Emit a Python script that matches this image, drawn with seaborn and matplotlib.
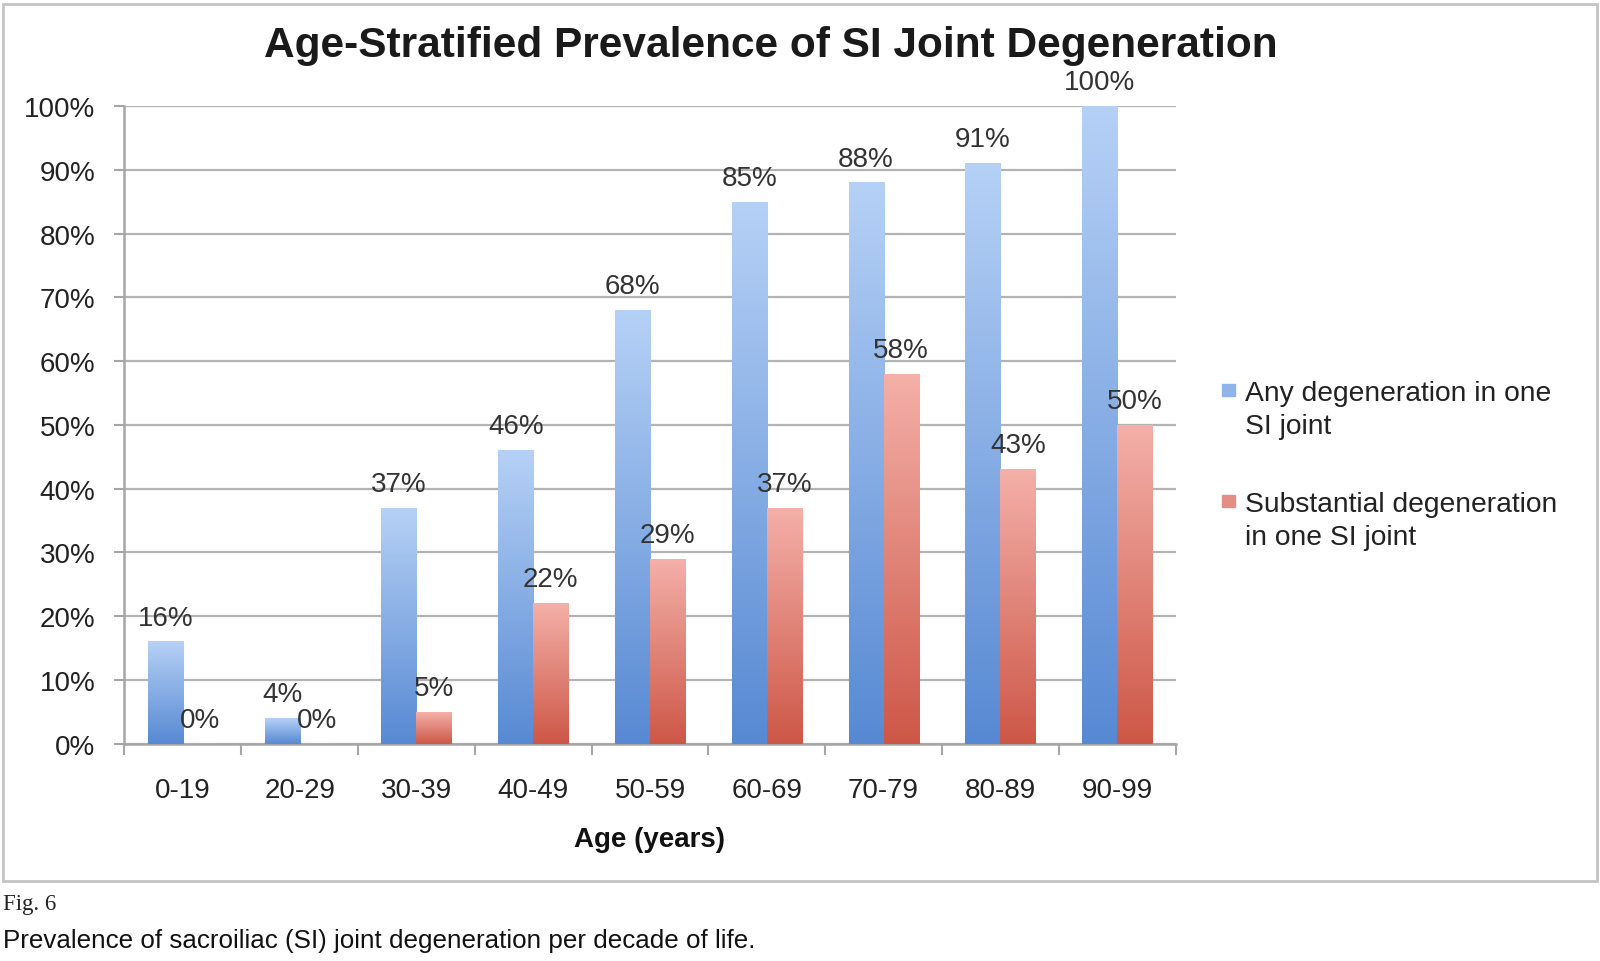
import numpy as np
import pandas as pd
import seaborn as sns
import matplotlib.pyplot as plt
from matplotlib.colors import LinearSegmentedColormap
from matplotlib.patches import Rectangle

# data
age_groups = ['0-19', '20-29', '30-39', '40-49', '50-59', '60-69', '70-79', '80-89', '90-99']
any_degen = [16, 4, 37, 46, 68, 85, 88, 91, 100]
substantial_degen = [0, 0, 5, 22, 29, 37, 58, 43, 50]
series_names = ['Any degeneration in one\nSI joint', 'Substantial degeneration\nin one SI joint']
y_ticks = [0, 10, 20, 30, 40, 50, 60, 70, 80, 90, 100]

df = pd.DataFrame({
    'age': age_groups * 2,
    'value': any_degen + substantial_degen,
    'series': [series_names[0]] * len(age_groups) + [series_names[1]] * len(age_groups),
})

sns.set_theme(style='white')
plt.rcParams['font.family'] = ['Liberation Sans', 'DejaVu Sans']

W, H = 1568, 943  # reference pixel frame
fig = plt.figure(figsize=(16, 9.62), dpi=100)
ax = fig.add_axes([122 / W, 1 - 730 / H, (1152 - 122) / W, (730 - 105) / H])

blue_mid, red_mid = '#7ea7e4', '#e0837a'
sns.barplot(data=df, x='age', y='value', hue='series', palette=[blue_mid, red_mid],
            width=0.6, ax=ax, legend=False, saturation=1)

# gradient fill on each bar (light on top, dark at the bottom)
cmaps = [LinearSegmentedColormap.from_list('b', ['#5789d3', '#b6d1f6']),
         LinearSegmentedColormap.from_list('r', ['#cd5747', '#f4b0a9'])]
grad = np.linspace(0, 1, 256).reshape(-1, 1)
for cont, cmap in zip(ax.containers, cmaps):
    for p in cont.patches:
        x0, w, h = p.get_x(), p.get_width(), p.get_height()
        if h <= 0:
            continue
        ax.imshow(grad, extent=[x0, x0 + w, 0, h], origin='lower', aspect='auto',
                  cmap=cmap, zorder=3, interpolation='bicubic')
        p.set_alpha(0)
    ax.bar_label(cont, labels=[f'{int(v)}%' for v in cont.datavalues], padding=8,
                 fontsize=20, color='#333333', zorder=5)

ax.set_xlim(-0.5, len(age_groups) - 0.5)
ax.set_ylim(0, 100)
ax.set_yticks(y_ticks)
ax.set_yticklabels([f'{t}%' for t in y_ticks], fontsize=20, color='#222222')
ax.set_xticks(range(len(age_groups)))
ax.set_xticklabels(age_groups, fontsize=20, color='#222222')
ax.set_xticks(np.arange(-0.5, len(age_groups)), minor=True)
ax.tick_params(axis='x', which='major', length=0, pad=24)
ax.tick_params(axis='x', which='minor', length=8, width=1.5, color='#a6a6a6', direction='out', bottom=True)
ax.tick_params(axis='y', length=7, width=1.5, color='#a6a6a6', direction='out', left=True, pad=14)
ax.set_xlabel('')
ax.set_ylabel('')
ax.yaxis.grid(True, color='#b3b3b3', lw=1.6, zorder=0)
ax.set_axisbelow(True)
for s in ['top', 'right']:
    ax.spines[s].set_visible(False)
for s in ['left', 'bottom']:
    ax.spines[s].set_color('#a6a6a6')
    ax.spines[s].set_linewidth(1.8)

# title and axis label
fig.text(755 / W, 1 - 45 / H, 'Age-Stratified Prevalence of SI Joint Degeneration',
         ha='center', va='center', fontsize=30.5, fontweight='bold', color='#1a1a1a')
fig.text(637 / W, 1 - 823 / H, 'Age (years)', ha='center', va='center',
         fontsize=20, fontweight='bold', color='#111111')

# legend drawn by hand
legend_colors = ['#8fb4ea', '#e48f86']
legend_y = [388, 497]
for name, col, yy in zip(series_names, legend_colors, legend_y):
    fig.patches.append(Rectangle((1198 / W, 1 - (yy + 1) / H), 12 / W, 12 / H,
                                 transform=fig.transFigure, color=col))
    fig.text(1220 / W, 1 - (yy - 15) / H, name, ha='left', va='top', fontsize=20.3,
             color='#222222', linespacing=1.35)

# outer frame of the figure panel
fig.patches.append(Rectangle((3 / W, 1 - 865 / H), 1562 / W, 860 / H, transform=fig.transFigure,
                             fill=False, edgecolor='#c4c4c4', lw=2))

# caption
fig.text(3 / W, 1 - 887 / H, 'Fig. 6', ha='left', va='center', fontsize=16.5,
         family=['Liberation Serif', 'DejaVu Serif'], color='#222222')
fig.text(3 / W, 1 - 922 / H, 'Prevalence of sacroiliac (SI) joint degeneration per decade of life.',
         ha='left', va='center', fontsize=18.7, color='#111111')

fig.savefig('out.png', dpi=100)
